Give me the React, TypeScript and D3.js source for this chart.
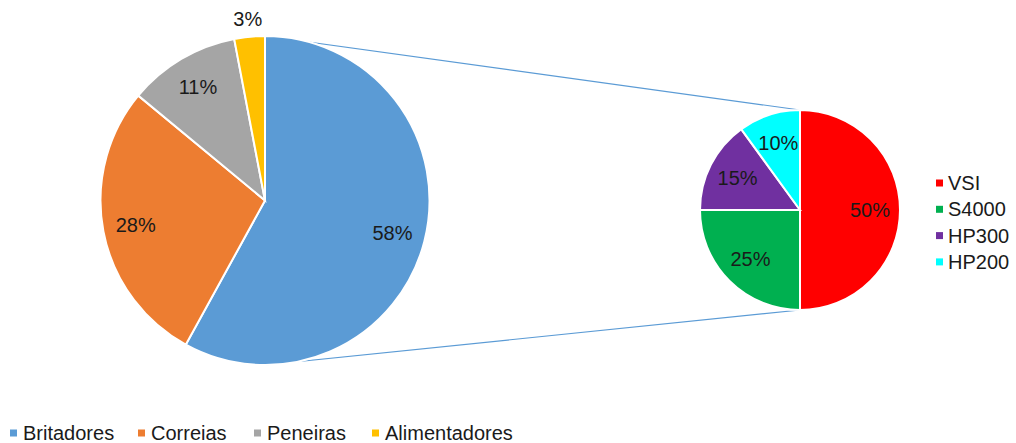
import React from "react";
import * as d3 from "d3";

const mainCategories = ["Britadores", "Correias", "Peneiras", "Alimentadores"];
const mainValues = [58, 28, 11, 3];
const mainColors = ["#5B9BD5", "#ED7D31", "#A5A5A5", "#FFC000"];

const subCategories = ["VSI", "S4000", "HP300", "HP200"];
const subValues = [50, 25, 15, 10];
const subColors = ["#FF0000", "#00B050", "#7030A0", "#00FFFF"];

const FONT = "'Liberation Sans', Arial, sans-serif";
const FS = 20;

export default function App() {
  const W = 1016, H = 443;
  const big = { cx: 265, cy: 200.5, r: 164.5 };
  const small = { cx: 800, cy: 210, r: 100 };

  const pie = d3.pie<number>().sort(null).value((d) => d);
  const mainArcs = pie(mainValues);
  const subArcs = pie(subValues);

  const bigArc = d3.arc<d3.PieArcDatum<number>>().innerRadius(0).outerRadius(big.r);
  const smallArc = d3.arc<d3.PieArcDatum<number>>().innerRadius(0).outerRadius(small.r);
  const bigLabel = d3.arc<d3.PieArcDatum<number>>().innerRadius(big.r * 0.8).outerRadius(big.r * 0.8);
  const bigOuterLabel = d3.arc<d3.PieArcDatum<number>>().innerRadius(big.r * 1.11).outerRadius(big.r * 1.11);
  const smallLabel = d3.arc<d3.PieArcDatum<number>>().innerRadius(small.r * 0.7).outerRadius(small.r * 0.7);

  const legendX = [10, 138, 254, 372];

  return (
    <svg width={W} height={H} style={{ position: "absolute", left: 0, top: 0, background: "#fff" }} fontFamily={FONT}>
      <line x1={big.cx} y1={big.cy - big.r} x2={small.cx} y2={small.cy - small.r} stroke="#5B9BD5" strokeWidth={1.2} />
      <line x1={big.cx} y1={big.cy + big.r} x2={small.cx} y2={small.cy + small.r} stroke="#5B9BD5" strokeWidth={1.2} />

      <g transform={`translate(${big.cx},${big.cy})`}>
        {mainArcs.map((a, i) => (
          <path key={i} d={bigArc(a) || ""} fill={mainColors[i]} stroke="#fff" strokeWidth={2} />
        ))}
        {mainArcs.map((a, i) => {
          const [x, y] = (mainValues[i] < 5 ? bigOuterLabel : bigLabel).centroid(a);
          return (
            <text key={i} x={x} y={y} textAnchor="middle" dominantBaseline="central" fontSize={FS} fill="#1a1a1a">
              {mainValues[i]}%
            </text>
          );
        })}
      </g>

      <g transform={`translate(${small.cx},${small.cy})`}>
        {subArcs.map((a, i) => (
          <path key={i} d={smallArc(a) || ""} fill={subColors[i]} stroke="#fff" strokeWidth={2} />
        ))}
        {subArcs.map((a, i) => {
          const [x, y] = smallLabel.centroid(a);
          return (
            <text key={i} x={x} y={y} textAnchor="middle" dominantBaseline="central" fontSize={FS} fill="#1a1a1a">
              {subValues[i]}%
            </text>
          );
        })}
      </g>

      {subCategories.map((c, i) => (
        <g key={c} transform={`translate(936,${183 + i * 26.3})`}>
          <rect x={0} y={-3.5} width={7} height={7} fill={subColors[i]} />
          <text x={12} y={0} dominantBaseline="central" fontSize={FS} fill="#1a1a1a">{c}</text>
        </g>
      ))}

      {mainCategories.map((c, i) => (
        <g key={c} transform={`translate(${legendX[i]},433)`}>
          <rect x={0} y={-3.5} width={7} height={7} fill={mainColors[i]} />
          <text x={13} y={0} dominantBaseline="central" fontSize={FS} fill="#1a1a1a">{c}</text>
        </g>
      ))}
    </svg>
  );
}
